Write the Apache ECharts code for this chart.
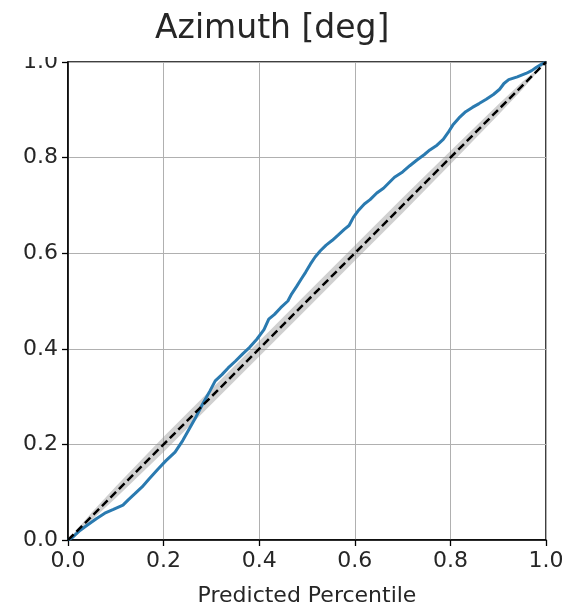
<!DOCTYPE html>
<html>
<head>
<meta charset="utf-8">
<script src="https://cdn.jsdelivr.net/npm/echarts@6/dist/echarts.min.js"></script>
<style>
  html, body { margin: 0; padding: 0; background: #fff; }
  #chart { width: 566px; height: 608px; }
</style>
</head>
<body>
<div id="chart"></div>
<script>
// Predicted percentile vs. observed fraction (calibration curve)
const predicted = [0.000, 0.010, 0.025, 0.040, 0.060, 0.077, 0.095, 0.115, 0.126, 0.140,
  0.155, 0.170, 0.188, 0.205, 0.224, 0.240, 0.255, 0.268, 0.282, 0.297,
  0.308, 0.322, 0.335, 0.350, 0.366, 0.380, 0.395, 0.410, 0.420, 0.432,
  0.445, 0.460, 0.468, 0.478, 0.488, 0.497, 0.507, 0.517, 0.528, 0.540,
  0.553, 0.565, 0.578, 0.588, 0.597, 0.608, 0.620, 0.632, 0.646, 0.660,
  0.672, 0.683, 0.700, 0.715, 0.730, 0.745, 0.757, 0.772, 0.785, 0.795,
  0.805, 0.818, 0.832, 0.846, 0.860, 0.875, 0.890, 0.903, 0.912, 0.922,
  0.940, 0.958, 0.970, 0.980, 0.992, 1.000];
const observed = [0.000, 0.006, 0.020, 0.031, 0.045, 0.056, 0.064, 0.073, 0.084, 0.097,
  0.111, 0.128, 0.148, 0.166, 0.184, 0.208, 0.235, 0.258, 0.285, 0.312,
  0.333, 0.346, 0.360, 0.374, 0.390, 0.403, 0.420, 0.440, 0.462, 0.472,
  0.486, 0.500, 0.515, 0.530, 0.546, 0.560, 0.577, 0.592, 0.605, 0.617,
  0.627, 0.638, 0.650, 0.658, 0.675, 0.690, 0.703, 0.712, 0.726, 0.736,
  0.748, 0.759, 0.770, 0.783, 0.795, 0.806, 0.816, 0.826, 0.838, 0.852,
  0.868, 0.883, 0.896, 0.905, 0.913, 0.922, 0.932, 0.943, 0.955, 0.963,
  0.969, 0.976, 0.982, 0.989, 0.996, 1.000];

// Confidence band around the ideal diagonal
const bandX    = [0, 0.05, 0.1, 0.2, 0.3, 0.4, 0.5, 0.6, 0.7, 0.8, 0.9, 0.95, 1];
const bandLow  = [0, 0.042, 0.088, 0.184, 0.284, 0.384, 0.484, 0.584, 0.684, 0.786, 0.889, 0.942, 1];
const bandHigh = [0, 0.058, 0.112, 0.216, 0.316, 0.416, 0.516, 0.616, 0.716, 0.814, 0.911, 0.958, 1];

// Ideal calibration line
const diagonal = [[0, 0], [1, 1]];

const FONT = 'DejaVu Sans';
const TEXT = '#262626';

const chart = echarts.init(document.getElementById('chart'), null, { renderer: 'canvas' });

const axisCommon = {
  type: 'value',
  min: 0,
  max: 1,
  interval: 0.2,
  axisLine: { show: true, onZero: false, lineStyle: { color: '#000', width: 1.5 } },
  axisTick: { show: true, inside: false, length: 6, lineStyle: { color: '#000', width: 1.3 } },
  axisLabel: {
    fontFamily: FONT, fontSize: 22, color: TEXT, margin: 10,
    formatter: v => v.toFixed(1)
  },
  splitLine: { show: true, lineStyle: { color: '#b0b0b0', width: 1 } }
};

chart.setOption({
  animation: false,
  backgroundColor: '#fff',
  title: {
    text: 'Azimuth [deg]',
    left: 150,
    top: 8,
    textStyle: { fontFamily: FONT, fontSize: 33, fontWeight: 'normal', color: TEXT }
  },
  grid: {
    left: 68, top: 62, width: 478, height: 478,
    outerBoundsMode: 'none',
    containLabel: false,
    show: true, borderColor: '#000', borderWidth: 1.5, backgroundColor: 'transparent'
  },
  xAxis: Object.assign({}, axisCommon, {
    name: 'Predicted Percentile',
    nameLocation: 'middle',
    nameGap: 45,
    nameTextStyle: { fontFamily: FONT, fontSize: 22, color: TEXT }
  }),
  yAxis: Object.assign({}, axisCommon),
  series: [
    {
      type: 'custom',
      data: bandX.map((x, i) => [x, bandLow[i], bandHigh[i]]),
      encode: { x: 0, y: [1, 2] },
      silent: true,
      z: 1,
      renderItem: (params, api) => {
        if (params.dataIndex !== 0) return;
        const pts = [];
        for (let i = 0; i < bandX.length; i++) pts.push(api.coord([bandX[i], bandHigh[i]]));
        for (let i = bandX.length - 1; i >= 0; i--) pts.push(api.coord([bandX[i], bandLow[i]]));
        return {
          type: 'polygon',
          shape: { points: pts },
          style: { fill: 'rgba(150,150,150,0.45)', stroke: null }
        };
      }
    },
    {
      type: 'line',
      data: predicted.map((x, i) => [x, observed[i]]),
      showSymbol: false,
      lineStyle: { color: '#2a7ab0', width: 3 },
      z: 3
    },
    {
      type: 'line',
      data: diagonal,
      showSymbol: false,
      lineStyle: { color: '#000', width: 2.5, type: [8, 4] },
      z: 4
    }
  ],
  graphic: [
    {
      // top margin strip trims the upper edge of the topmost y label
      type: 'rect',
      shape: { x: 0, y: 45, width: 63, height: 12 },
      style: { fill: '#fff' },
      z: 100
    }
  ]
});
</script>
</body>
</html>
